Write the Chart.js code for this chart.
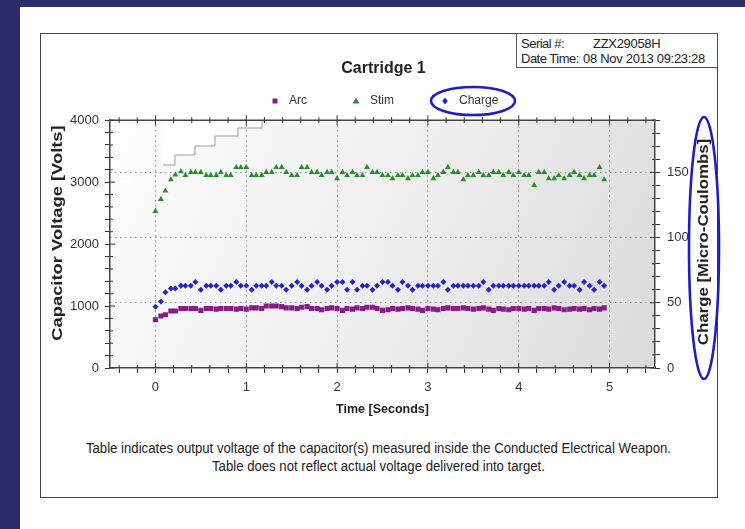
<!DOCTYPE html>
<html>
<head>
<meta charset="utf-8">
<script src="https://cdn.jsdelivr.net/npm/chart.js@4.4.0/dist/chart.umd.min.js"></script>
<style>
html, body { margin: 0; padding: 0; }
body { width: 745px; height: 529px; background: #2b2a6b; position: relative; overflow: hidden;
       font-family: "Liberation Sans", Arial, sans-serif; color: #222; }
#panel { position: absolute; left: 20px; top: 7px; right: 0; bottom: 0; background: #fff; }
#frame { position: absolute; left: 40px; top: 33px; width: 676px; height: 463px; border: 1.5px solid #444; }
#serial { position: absolute; left: 516px; top: 33px; width: 196px; height: 31px; border: 1px solid #555;
          padding-left: 4px; font-size: 13px; line-height: 15px; padding-top: 2px; white-space: nowrap; }
#serial span { display: inline-block; letter-spacing: -0.5px; }
#serial b { font-weight: normal; letter-spacing: -0.3px; }
#note { position: absolute; left: 40px; width: 677px; top: 439px; text-align: center; font-size: 14px;
        line-height: 18px; white-space: nowrap; transform: scaleX(0.94); transform-origin: 338px 0; }
#wrap { position: absolute; left: 0; top: 0; width: 745px; height: 529px; }
</style>
</head>
<body>
<div id="panel"></div>
<div id="frame"></div>
<div id="serial"><span style="width:72px">Serial #:</span><b>ZZX29058H</b><br><span style="width:62px">Date Time:</span><b>08 Nov 2013 09:23:28</b></div>
<div id="note">Table indicates output voltage of the capacitor(s) measured inside the Conducted Electrical Weapon.<br>Table does not reflect actual voltage delivered into target.</div>
<div id="wrap"><canvas id="chart" width="745" height="529"></canvas></div>
<script>
const FONT = '"Liberation Sans", Arial, sans-serif';

const times = [
  0.00, 0.06, 0.11, 0.17, 0.22, 0.28, 0.33, 0.39, 0.44, 0.50, 0.56, 0.61, 0.67, 0.72, 0.78, 0.83, 0.89, 0.94,
  1.00, 1.06, 1.11, 1.17, 1.22, 1.28, 1.33, 1.39, 1.44, 1.50, 1.56, 1.61, 1.67, 1.72, 1.78, 1.83, 1.89, 1.94,
  2.00, 2.06, 2.11, 2.17, 2.22, 2.28, 2.33, 2.39, 2.44, 2.50, 2.56, 2.61, 2.67, 2.72, 2.78, 2.83, 2.89, 2.94,
  3.00, 3.06, 3.11, 3.17, 3.22, 3.28, 3.33, 3.39, 3.44, 3.50, 3.56, 3.61, 3.67, 3.72, 3.78, 3.83, 3.89, 3.94,
  4.00, 4.06, 4.11, 4.17, 4.22, 4.28, 4.33, 4.39, 4.44, 4.50, 4.56, 4.61, 4.67, 4.72, 4.78, 4.83, 4.89, 4.94
];

// capacitor voltage, volts
const arcVolts = [
  780, 840, 860, 920, 920, 960, 960, 960, 960, 930, 960, 960, 950, 960, 960, 960, 950, 960,
  950, 970, 970, 960, 1000, 1000, 1000, 990, 970, 970, 960, 980, 990, 960, 960, 940, 960, 970,
  960, 930, 960, 950, 970, 960, 980, 980, 960, 930, 940, 960, 950, 960, 970, 960, 950, 930,
  960, 950, 940, 960, 970, 960, 960, 970, 960, 950, 960, 970, 950, 930, 960, 950, 940, 960,
  960, 950, 960, 930, 960, 960, 950, 970, 960, 940, 950, 960, 950, 960, 940, 960, 950, 970
];
const stimVolts = [
  2530, 2725, 2860, 3040, 3120, 3170, 3110, 3160, 3160, 3160, 3110, 3110, 3110, 3160, 3110, 3110, 3240, 3240,
  3240, 3110, 3110, 3110, 3160, 3160, 3240, 3240, 3160, 3110, 3110, 3240, 3240, 3160, 3160, 3110, 3160, 3160,
  3060, 3160, 3110, 3160, 3110, 3110, 3240, 3160, 3160, 3110, 3110, 3060, 3110, 3110, 3060, 3110, 3110, 3160,
  3160, 3060, 3110, 3160, 3240, 3160, 3160, 3040, 3110, 3110, 3160, 3110, 3110, 3160, 3160, 3110, 3160, 3110,
  3160, 3110, 3110, 2950, 3160, 3160, 3060, 3060, 3110, 3060, 3110, 3160, 3110, 3060, 3110, 3110, 3240, 3040
];
// charge, micro-coulombs
const chargeUC = [
  47, 51, 58, 61, 61, 63, 63, 63, 66, 60, 63, 63, 63, 60, 63, 63, 66, 63,
  63, 60, 63, 63, 63, 66, 63, 63, 60, 63, 66, 63, 60, 63, 66, 63, 60, 63,
  66, 66, 60, 66, 60, 63, 63, 60, 63, 66, 66, 63, 60, 66, 63, 60, 63, 63,
  63, 63, 63, 66, 60, 63, 63, 63, 63, 63, 63, 66, 60, 63, 63, 63, 63, 63,
  63, 63, 63, 63, 63, 63, 66, 60, 63, 66, 63, 63, 60, 66, 63, 60, 66, 63
];

const xMajor = [0, 1, 2, 3, 4, 5];
const voltMajor = [0, 1000, 2000, 3000, 4000];
const chargeMajor = [0, 50, 100, 150];

const ARC = '#8a1a88', STIM = '#2c8c2c', CHARGE = '#2323c8';

function pts(ys) {
  return ys.map((y, i) => ({ x: times[i], y: y }));
}
function isMajor(list, v) {
  return list.some(m => Math.abs(m - v) < 1e-6);
}
function minorTicks(from, to, step) {
  const out = [];
  for (let v = from; v <= to + 1e-9; v += step) out.push({ value: Math.round(v * 1000) / 1000 });
  return out;
}
// vertical axis title, reading upward, stretched along its length
function sideTitle(ctx, text, x, y, stretch) {
  ctx.save();
  ctx.translate(x, y);
  ctx.rotate(-Math.PI / 2);
  ctx.scale(stretch, 1);
  ctx.font = 'bold 14px ' + FONT;
  ctx.fillStyle = '#222';
  ctx.textAlign = 'center';
  ctx.textBaseline = 'middle';
  ctx.fillText(text, 0, 0);
  ctx.restore();
}

const plotDecor = {
  id: 'plotDecor',
  beforeDraw(chart) {
    const { ctx, chartArea: a } = chart;
    const g = ctx.createLinearGradient(a.left, a.top, a.right, a.bottom);
    g.addColorStop(0, '#fdfdfd');
    g.addColorStop(0.5, '#efefef');
    g.addColorStop(1, '#dadada');
    ctx.save();
    ctx.fillStyle = g;
    ctx.fillRect(a.left, a.top, a.right - a.left, a.bottom - a.top);

    // pasted-over patches seen in the scan: stepped white block and small box
    ctx.fillStyle = '#ffffff';
    ctx.strokeStyle = '#9a9a9a';
    ctx.lineWidth = 1;
    ctx.beginPath();
    ctx.moveTo(163, a.top + 1);
    ctx.lineTo(163, 165); ctx.lineTo(175, 165); ctx.lineTo(175, 155); ctx.lineTo(195, 155);
    ctx.lineTo(195, 146); ctx.lineTo(215, 146); ctx.lineTo(215, 136); ctx.lineTo(238, 136);
    ctx.lineTo(238, 128); ctx.lineTo(262, 128); ctx.lineTo(262, a.top + 1);
    ctx.closePath();
    ctx.fill();
    ctx.beginPath();
    ctx.moveTo(163, 165); ctx.lineTo(175, 165); ctx.lineTo(175, 155); ctx.lineTo(195, 155);
    ctx.lineTo(195, 146); ctx.lineTo(215, 146); ctx.lineTo(215, 136); ctx.lineTo(238, 136);
    ctx.lineTo(238, 128); ctx.lineTo(262, 128); ctx.lineTo(262, a.top + 1);
    ctx.stroke();
    ctx.fillRect(112, 172, 22, 11);
    ctx.restore();
  },
  afterDraw(chart) {
    const { ctx, chartArea: a, scales } = chart;
    ctx.save();
    ctx.strokeStyle = '#444';
    ctx.lineWidth = 1.5;
    ctx.beginPath();
    ctx.moveTo(a.left, a.top); ctx.lineTo(a.right, a.top);
    ctx.stroke();

    // inward ticks and top ticks
    ctx.lineWidth = 1;
    ctx.strokeStyle = '#333';
    ctx.beginPath();
    scales.x.ticks.forEach(t => {
      const px = scales.x.getPixelForValue(t.value);
      const len = isMajor(xMajor, t.value) ? 5 : 3;
      ctx.moveTo(px, a.bottom); ctx.lineTo(px, a.bottom - len);
      ctx.moveTo(px, a.top - len); ctx.lineTo(px, a.top + len);
    });
    scales.y.ticks.forEach(t => {
      const py = scales.y.getPixelForValue(t.value);
      const len = isMajor(voltMajor, t.value) ? 5 : 3;
      ctx.moveTo(a.left, py); ctx.lineTo(a.left + len, py);
    });
    scales.y1.ticks.forEach(t => {
      const py = scales.y1.getPixelForValue(t.value);
      const len = isMajor(chargeMajor, t.value) ? 5 : 3;
      ctx.moveTo(a.right, py); ctx.lineTo(a.right - len, py);
    });
    ctx.stroke();

    // legend
    const ly = 101;
    const items = [
      { x: 275, label: 'Arc', ds: 0 },
      { x: 356, label: 'Stim', ds: 1 },
      { x: 445, label: 'Charge', ds: 2 }
    ];
    ctx.font = '12px ' + FONT;
    ctx.textBaseline = 'middle';
    ctx.textAlign = 'left';
    items.forEach(it => {
      const ds = chart.data.datasets[it.ds];
      ctx.fillStyle = ds.backgroundColor;
      ctx.beginPath();
      if (ds.pointStyle === 'rect') {
        ctx.rect(it.x - 2.5, ly - 2.5, 5, 5);
      } else if (ds.pointStyle === 'triangle') {
        ctx.moveTo(it.x, ly - 3.5); ctx.lineTo(it.x + 3.5, ly + 2.5); ctx.lineTo(it.x - 3.5, ly + 2.5);
        ctx.closePath();
      } else {
        ctx.moveTo(it.x, ly - 3.5); ctx.lineTo(it.x + 2.8, ly); ctx.lineTo(it.x, ly + 3.5); ctx.lineTo(it.x - 2.8, ly);
        ctx.closePath();
      }
      ctx.fill();
      ctx.fillStyle = '#333';
      ctx.fillText(it.label, it.x + 14, ly);
    });

    // axis titles
    sideTitle(ctx, 'Capacitor Voltage [Volts]', 58, 233, 1.31);
    sideTitle(ctx, 'Charge [Micro-Coulombs]', 704, 242, 1.2);

    // blue highlight ellipses
    ctx.strokeStyle = '#1e1ec4';
    ctx.lineWidth = 2.6;
    ctx.beginPath();
    ctx.ellipse(473, 101, 42, 14, 0, 0, Math.PI * 2);
    ctx.stroke();
    ctx.beginPath();
    ctx.ellipse(704, 248, 15, 131, 0, 0, Math.PI * 2);
    ctx.stroke();
    ctx.restore();
  }
};

const tickFont = { family: FONT, size: 13 };

new Chart(document.getElementById('chart'), {
  type: 'scatter',
  data: {
    datasets: [
      { label: 'Arc', data: pts(arcVolts), yAxisID: 'y', pointStyle: 'rect', pointRadius: 3.6,
        backgroundColor: ARC, borderColor: ARC, borderWidth: 0 },
      { label: 'Stim', data: pts(stimVolts), yAxisID: 'y', pointStyle: 'triangle', pointRadius: 3.4,
        backgroundColor: STIM, borderColor: STIM, borderWidth: 0 },
      { label: 'Charge', data: pts(chargeUC), yAxisID: 'y1', pointStyle: 'rectRot', pointRadius: 3,
        backgroundColor: CHARGE, borderColor: CHARGE, borderWidth: 0 }
    ]
  },
  options: {
    responsive: false,
    animation: false,
    layout: { padding: { top: 59, left: 22, right: 0, bottom: 106 } },
    plugins: {
      legend: { display: false },
      tooltip: { enabled: false },
      title: {
        display: true, text: 'Cartridge 1', color: '#222',
        font: { family: FONT, size: 16, weight: 'bold' },
        padding: { top: 0, bottom: 42 }
      }
    },
    scales: {
      x: {
        type: 'linear', min: -0.5, max: 5.5,
        afterBuildTicks: s => { s.ticks = minorTicks(-0.4, 5.4, 0.2); },
        afterFit: s => { s.height = 55; },
        ticks: {
          autoSkip: false, maxRotation: 0, padding: 7, color: '#333', font: tickFont,
          callback: v => isMajor(xMajor, v) ? String(Math.round(v)) : ''
        },
        grid: {
          tickLength: 5, tickColor: '#333',
          color: c => (c.tick && isMajor(xMajor, c.tick.value)) ? '#8e8e8e' : 'rgba(0,0,0,0)'
        },
        border: { display: true, color: '#444', width: 1.5, dash: [1.5, 3.5] },
        title: {
          display: true, text: 'Time [Seconds]', color: '#222',
          font: { family: FONT, size: 12.5, weight: 'bold' },
          padding: { top: 0, bottom: 6 }
        }
      },
      y: {
        type: 'linear', position: 'left', min: 0, max: 4000,
        afterBuildTicks: s => { s.ticks = minorTicks(0, 4000, 200); },
        afterFit: s => { s.width = 88; },
        ticks: {
          autoSkip: false, padding: 6, color: '#333', font: tickFont,
          callback: v => isMajor(voltMajor, v) ? String(v) : ''
        },
        grid: { drawOnChartArea: false, tickLength: 5, tickColor: '#333' },
        border: { display: true, color: '#444', width: 1.5 }
      },
      y1: {
        type: 'linear', position: 'right', min: 0, max: 190,
        afterBuildTicks: s => { s.ticks = minorTicks(0, 190, 10); },
        afterFit: s => { s.width = 90; },
        ticks: {
          autoSkip: false, padding: 7, color: '#333', font: tickFont,
          callback: v => isMajor(chargeMajor, v) ? String(v) : ''
        },
        grid: {
          tickLength: 5, tickColor: '#333',
          color: c => (c.tick && isMajor(chargeMajor, c.tick.value) && c.tick.value > 0) ? '#8e8e8e' : 'rgba(0,0,0,0)'
        },
        border: { display: true, color: '#444', width: 1.5, dash: [1.5, 3.5] }
      }
    }
  },
  plugins: [plotDecor]
});
</script>
</body>
</html>
